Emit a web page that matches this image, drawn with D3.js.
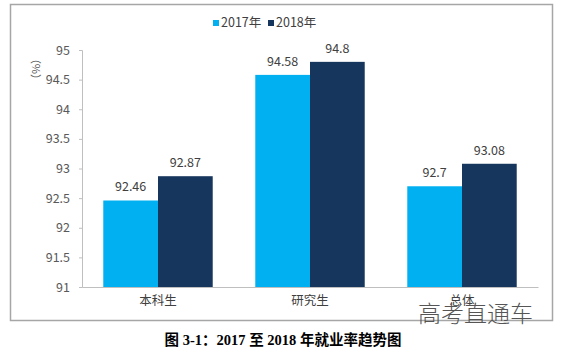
<!DOCTYPE html>
<html>
<head>
<meta charset="utf-8">
<script src="https://cdn.jsdelivr.net/npm/d3@7"></script>
<style>
  body { margin: 0; background: #fff; }
  svg { display: block; }
</style>
</head>
<body>
<div id="chart_div"></div>
<script>
// chart data
const categories = ["本科生", "研究生", "总体"];
const seriesNames = ["2017年", "2018年"];
const values2017 = [92.46, 94.58, 92.7];
const values2018 = [92.87, 94.8, 93.08];
const yTicks = [91, 91.5, 92, 92.5, 93, 93.5, 94, 94.5, 95];

const colors = ["#00b0f0", "#17365d"];
const font = "'Noto Sans CJK SC', 'Open Sans', sans-serif";

const width = 565, height = 353;
const svg = d3.select("#chart_div")
  .append("svg")
    .attr("width", width)
    .attr("height", height);

// outer frame
svg.append("rect")
  .attr("x", 10.5).attr("y", 4.5)
  .attr("width", 542).attr("height", 316)
  .attr("fill", "none")
  .attr("stroke", "#a6a6a6")
  .attr("stroke-width", 1.5);

const plot = {left: 82, right: 538, top: 50, bottom: 287};

const x = d3.scaleBand()
  .domain(categories)
  .range([plot.left, plot.right])
  .paddingInner(0.28)
  .paddingOuter(0.14);

const xSub = d3.scaleBand()
  .domain(seriesNames)
  .range([0, x.bandwidth()]);

const y = d3.scaleLinear()
  .domain([91, 95])
  .range([plot.bottom, plot.top]);

// y axis
const yAxis = svg.append("g")
  .attr("transform", `translate(${plot.left},0)`)
  .call(d3.axisLeft(y).tickValues(yTicks).tickSize(3).tickPadding(9).tickFormat(d3.format("")));
yAxis.select(".domain").attr("stroke", "#bfbfbf");
yAxis.selectAll(".tick line").attr("stroke", "#bfbfbf");
yAxis.selectAll("text")
  .attr("fill", "#595959")
  .style("font-family", font)
  .style("font-size", "12.5px");

svg.append("text")
  .attr("transform", "translate(37,69) rotate(-90)")
  .attr("text-anchor", "middle")
  .attr("dominant-baseline", "middle")
  .attr("fill", "#595959")
  .style("font-family", font)
  .style("font-size", "11px")
  .text("（%）");

// bars
const rows = categories.map((c, i) => ({cat: c, vals: [values2017[i], values2018[i]]}));

const groups = svg.append("g")
  .selectAll("g")
  .data(rows)
  .join("g")
    .attr("transform", d => `translate(${x(d.cat)},0)`);

groups.selectAll("rect")
  .data(d => d.vals.map((v, j) => ({name: seriesNames[j], v: v, j: j})))
  .join("rect")
    .attr("x", d => xSub(d.name))
    .attr("width", xSub.bandwidth())
    .attr("y", d => y(d.v))
    .attr("height", d => y(91) - y(d.v))
    .attr("fill", d => colors[d.j]);

groups.selectAll("text")
  .data(d => d.vals.map((v, j) => ({name: seriesNames[j], v: v, j: j})))
  .join("text")
    .attr("x", d => xSub(d.name) + xSub.bandwidth() / 2)
    .attr("y", d => y(d.v) - 9)
    .attr("text-anchor", "middle")
    .attr("fill", "#404040")
    .style("font-family", font)
    .style("font-size", "12.5px")
    .text(d => d.v);

// x axis
const xAxis = svg.append("g")
  .attr("transform", `translate(0,${plot.bottom})`)
  .call(d3.axisBottom(x).tickSize(0).tickPadding(9));
xAxis.select(".domain").attr("stroke", "#bfbfbf");
xAxis.selectAll("text")
  .attr("fill", "#404040")
  .style("font-family", font)
  .style("font-size", "12.5px");

// legend
const legend = svg.append("g").attr("transform", "translate(213,24)");
const legendX = [0, 55];
seriesNames.forEach((n, i) => {
  legend.append("rect")
    .attr("x", legendX[i]).attr("y", -4)
    .attr("width", 6).attr("height", 6)
    .attr("fill", colors[i]);
  legend.append("text")
    .attr("x", legendX[i] + 8).attr("y", 0)
    .attr("dominant-baseline", "middle")
    .attr("fill", "#404040")
    .style("font-family", font)
    .style("font-size", "12.5px")
    .text(n);
});

// watermark
svg.append("text")
  .attr("x", 418).attr("y", 322)
  .attr("fill", "#555")
  .style("font-family", font)
  .style("font-weight", 300)
  .style("font-size", "23px")
  .text("高考直通车");

// caption
svg.append("text")
  .attr("x", 283).attr("y", 345)
  .attr("text-anchor", "middle")
  .attr("fill", "#000")
  .style("font-family", "'Liberation Serif', 'Noto Sans CJK SC', serif")
  .style("font-weight", "bold")
  .style("font-size", "14.5px")
  .text("图 3-1：2017 至 2018 年就业率趋势图");
</script>
</body>
</html>
